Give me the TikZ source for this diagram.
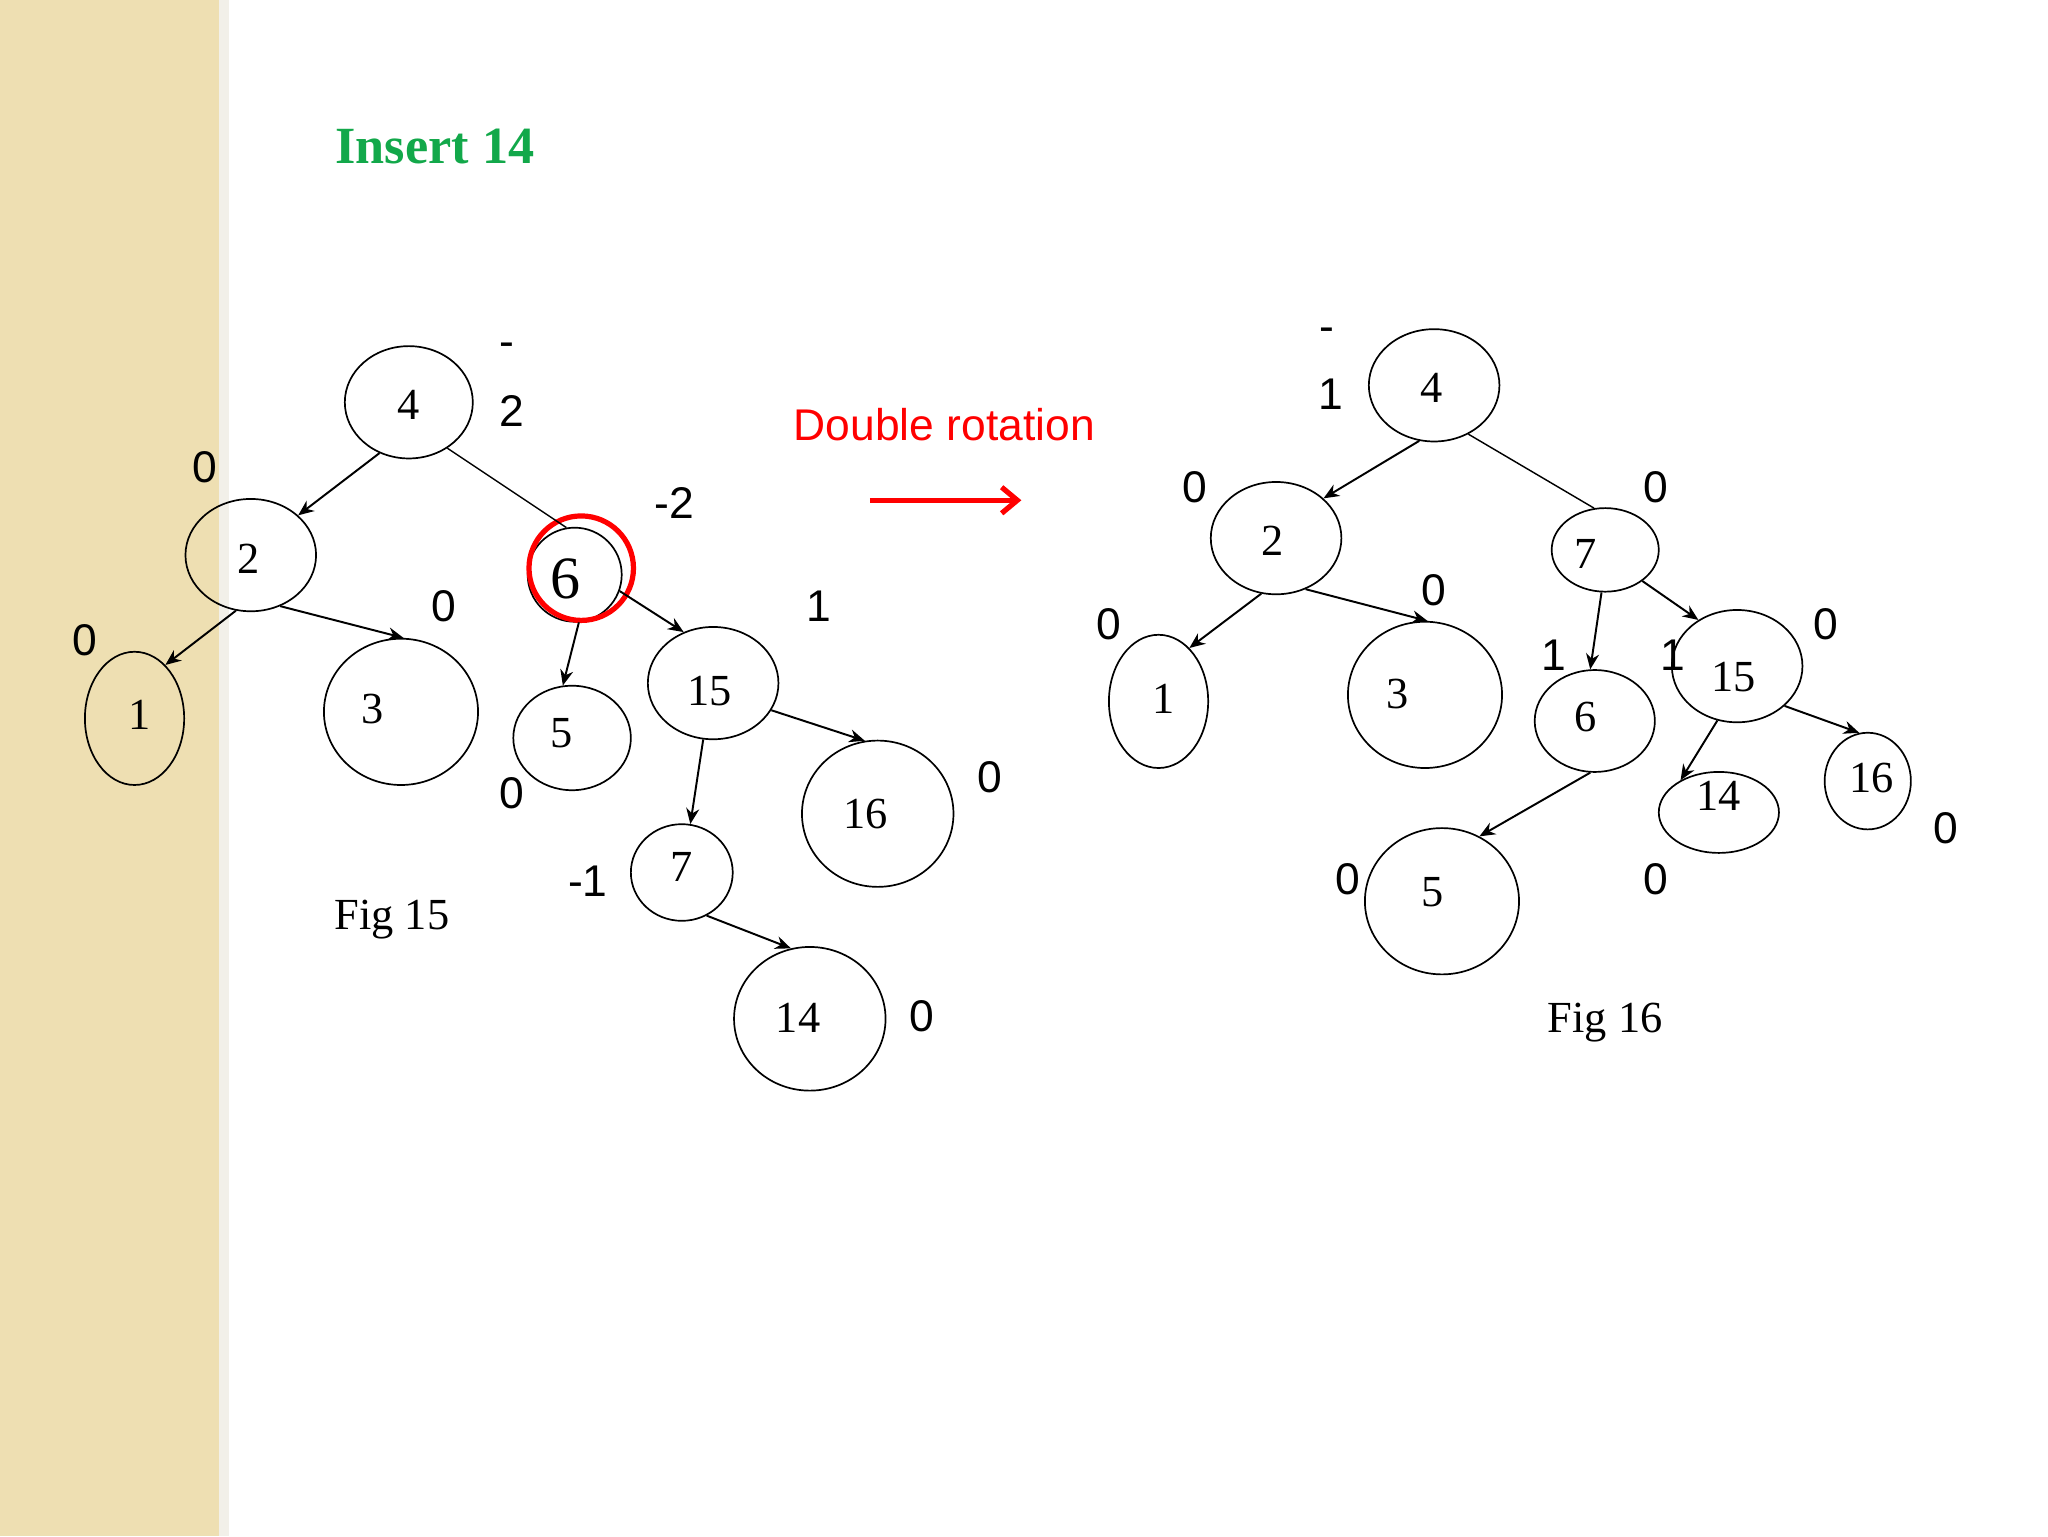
\documentclass[tikz,border=0pt]{standalone}
\usepackage{fontspec}
\setmainfont{Liberation Serif}
\setsansfont{Liberation Sans}
\usetikzlibrary{shapes.geometric,arrows.meta}
\definecolor{strip}{HTML}{EEDFB2}
\definecolor{titlegreen}{HTML}{12A84A}
\begin{document}
\begin{tikzpicture}[x=1pt,y=-1pt,
  el/.style={draw,ellipse,line width=1.3pt,inner sep=0pt},
  num/.style={font=\fontsize{34}{36}\selectfont},
  bf/.style={font=\sffamily\fontsize{34}{36}\selectfont},
  arr/.style={line width=1.5pt,-{Stealth[length=12pt,width=10pt]}},
  ln/.style={line width=1.1pt}]
\useasboundingbox (0,0) rectangle (1568,1176);
\fill[strip] (0,0) rectangle (172,1176);
\fill[strip!80!black!20] (168,0) rectangle (175,1176);
\node[font=\bfseries\fontsize{40}{42}\selectfont,text=titlegreen] (t) at (333,112) {Insert 14};
% Fig 15
\node[el,minimum width=98pt,minimum height=86pt] (a4) at (313,308) {};
\node[el,minimum width=100pt,minimum height=86pt] (a2) at (192,425) {};
\node[el,minimum width=76pt,minimum height=102pt] (a1) at (103,550) {};
\node[el,minimum width=118pt,minimum height=112pt] (a3) at (307,545) {};
\node[el,minimum width=72pt,minimum height=72pt] (a6) at (440,440) {};
\node[el,minimum width=90pt,minimum height=80pt] (a5) at (438,565) {};
\node[el,minimum width=100pt,minimum height=86pt] (a15) at (546,523) {};
\node[el,minimum width=116pt,minimum height=112pt] (a16) at (672,623) {};
\node[el,minimum width=78pt,minimum height=74pt] (a7) at (522,668) {};
\node[el,minimum width=116pt,minimum height=110pt] (a14) at (620,780) {};
\node[draw=red,circle,line width=4pt,minimum size=80pt] (red) at (445,435) {};
\node[num] at (313,310) {4};
\node[num] at (190,428) {2};
\node[num] at (107,547) {1};
\node[num] at (285,543) {3};
\node[font=\fontsize{46}{48}\selectfont] at (433,443) {6};
\node[num] at (430,561) {5};
\node[num] at (543,529) {15};
\node[num] at (663,623) {16};
\node[num] at (522,664) {7};
\node[num] at (611,779) {14};
\draw[arr] (a4.-120) -- (a2.40);
\draw[ln] (a4.-50) -- (a6.100);
\draw[arr] (a2.-105) -- (a1.60);
\draw[arr] (a2.-60) -- (a3.88);
\draw[arr] (a6.-85) -- (a5.100);
\draw[arr] (a6.-20) -- (a15.120);
\draw[arr] (a15.-100) -- (a7.80);
\draw[arr] (a15.-25) -- (a16.100);
\draw[arr] (a7.-60) -- (a14.105);
\node[bf] at (388,268) {-};
\node[bf] at (392,315) {2};
\node[bf] at (157,358) {0};
\node[bf] at (65,490) {0};
\node[bf] at (340,464) {0};
\node[bf] at (516,385) {-2};
\node[bf] at (627,464) {1};
\node[bf] at (392,607) {0};
\node[bf] at (758,595) {0};
\node[bf] at (450,675) {-1};
\node[bf] at (706,778) {0};
\node[font=\fontsize{34}{36}\selectfont] at (300,704) {Fig 15};
\node[bf,text=red] (dr) at (723,325) {Double rotation};
\coordinate (r1) at (666,383);
\coordinate (r2) at (782,383);
\draw[red,line width=4pt,-{Straight Barb[length=12pt,width=20pt]}] (r1) -- (r2);
% Fig 16
\node[el,minimum width=100pt,minimum height=86pt] (b4) at (1098,295) {};
\node[el,minimum width=100pt,minimum height=86pt] (b2) at (977,412) {};
\node[el,minimum width=82pt,minimum height=64pt] (b7) at (1229,421) {};
\node[el,minimum width=76pt,minimum height=102pt] (b1) at (887,537) {};
\node[el,minimum width=118pt,minimum height=112pt] (b3) at (1091,532) {};
\node[el,minimum width=92pt,minimum height=78pt] (b6) at (1221,552) {};
\node[el,minimum width=100pt,minimum height=86pt] (b15) at (1330,510) {};
\node[el,minimum width=92pt,minimum height=62pt] (b14) at (1316,622) {};
\node[el,minimum width=66pt,minimum height=74pt] (b16) at (1430,598) {};
\node[el,minimum width=118pt,minimum height=112pt] (b5) at (1104,690) {};
\node[num] at (1096,297) {4};
\node[num] at (974,414) {2};
\node[num] at (1214,424) {7};
\node[num] at (891,535) {1};
\node[num] at (1070,531) {3};
\node[num] at (1214,549) {6};
\node[num] at (1327,518) {15};
\node[num] at (1316,609) {14};
\node[num] at (1433,596) {16};
\node[num] at (1097,683) {5};
\draw[arr] (b4.-105) -- (b2.40);
\draw[ln] (b4.-55) -- (b7.105);
\draw[arr] (b2.-105) -- (b1.60);
\draw[arr] (b2.-60) -- (b3.88);
\draw[arr] (b7.-95) -- (b6.95);
\draw[arr] (b7.-40) -- (b15.130);
\draw[arr] (b15.-110) -- (b14.140);
\draw[arr] (b15.-40) -- (b16.100);
\draw[arr] (b6.-95) -- (b5.60);
\node[bf] at (1016,256) {-};
\node[bf] at (1019,302) {1};
\node[bf] at (915,373) {0};
\node[bf] at (1268,373) {0};
\node[bf] at (1098,452) {0};
\node[bf] at (849,478) {0};
\node[bf] at (1190,502) {1};
\node[bf] at (1281,502) {1};
\node[bf] at (1398,478) {0};
\node[bf] at (1490,634) {0};
\node[bf] at (1032,673) {0};
\node[bf] at (1268,673) {0};
\node[font=\fontsize{34}{36}\selectfont] at (1229,783) {Fig 16};
\end{tikzpicture}
\end{document}
